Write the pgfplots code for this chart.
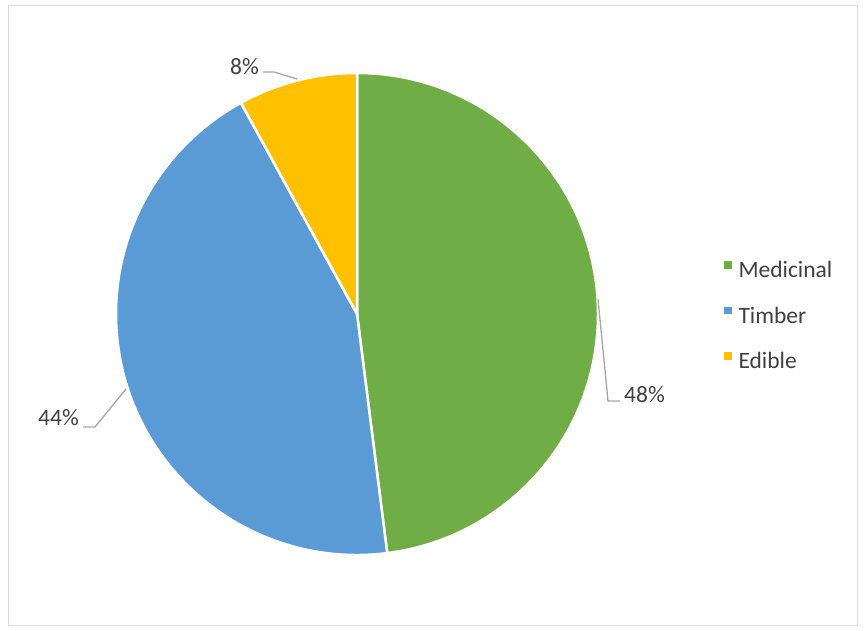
\documentclass[border=0pt]{standalone}
\usepackage{pgfplots}
\pgfplotsset{compat=1.18}
\usepackage{pgfplotstable}
\usepackage{fontspec}
\setmainfont{Carlito}

\definecolor{med}{HTML}{70AD47}
\definecolor{tim}{HTML}{5B9BD5}
\definecolor{edi}{HTML}{FFC000}
\definecolor{txt}{HTML}{404040}
\definecolor{lead}{HTML}{A6A6A6}
\definecolor{frame}{HTML}{D9D9D9}

% share of species by use (percent)
\pgfplotstableread{
name value
Medicinal 48
Timber 44
Edible 8
}\piedata

\begin{document}
\fontsize{23.5bp}{28bp}\selectfont
\begin{tikzpicture}
\path[use as bounding box] (0bp,0bp) rectangle (866bp,631bp);
\draw[frame, line width=1bp] (8.5bp,5.5bp) rectangle (857.5bp,625.5bp);

\pgfplotstablegetelem{0}{value}\of\piedata \let\vA\pgfplotsretval
\pgfplotstablegetelem{1}{value}\of\piedata \let\vB\pgfplotsretval
\pgfplotstablegetelem{2}{value}\of\piedata \let\vC\pgfplotsretval
\pgfmathsetmacro\aA{90}
\pgfmathsetmacro\aB{\aA-3.6*\vA}
\pgfmathsetmacro\aC{\aB-3.6*\vB}
\pgfmathsetmacro\aD{\aC-3.6*\vC}

\begin{axis}[
    at={(357bp,317bp)}, anchor=center,
    scale only axis, width=482bp, height=482bp,
    xmin=-1, xmax=1, ymin=-1, ymax=1,
    hide axis, clip=false,
    legend image code/.code={\fill (0bp,1bp) rectangle (7.5bp,8.5bp);},
    legend cell align=left,
    legend style={at={(axis cs:1.5228,0.2199)}, anchor=north west,
        draw=none, fill=none, inner sep=0pt, outer sep=0pt,
        column sep=7bp, row sep=29bp, text=txt,
        nodes={inner sep=0pt, text height=16bp, text depth=0pt}},
]
\addlegendimage{fill=med, draw=none}
\addlegendentry{Medicinal}
\addlegendimage{fill=tim, draw=none}
\addlegendentry{Timber}
\addlegendimage{fill=edi, draw=none}
\addlegendentry{Edible}

\fill[med, draw=white, line width=2.5bp] (axis cs:0,0) -- ++(\aA:241bp)
    arc[start angle=\aA, end angle=\aB, radius=241bp] -- cycle;
\fill[tim, draw=white, line width=2.5bp] (axis cs:0,0) -- ++(\aB:241bp)
    arc[start angle=\aB, end angle=\aC, radius=241bp] -- cycle;
\fill[edi, draw=white, line width=2.5bp] (axis cs:0,0) -- ++(\aC:241bp)
    arc[start angle=\aC, end angle=\aD, radius=241bp] -- cycle;
\end{axis}

% data labels with leader lines
\draw[lead, line width=1.3bp] (598bp,332bp) -- (608bp,230bp) -- (620bp,230bp);
\node[anchor=west, inner sep=0pt, text=txt] at (624bp,236.5bp) {48\%};
\draw[lead, line width=1.3bp] (126bp,242bp) -- (95bp,204bp) -- (83bp,204bp);
\node[anchor=east, inner sep=0pt, text=txt] at (79bp,213bp) {44\%};
\draw[lead, line width=1.3bp] (297bp,552bp) -- (274bp,559bp) -- (263bp,559bp);
\node[anchor=east, inner sep=0pt, text=txt] at (259bp,564.5bp) {8\%};
\end{tikzpicture}
\end{document}
